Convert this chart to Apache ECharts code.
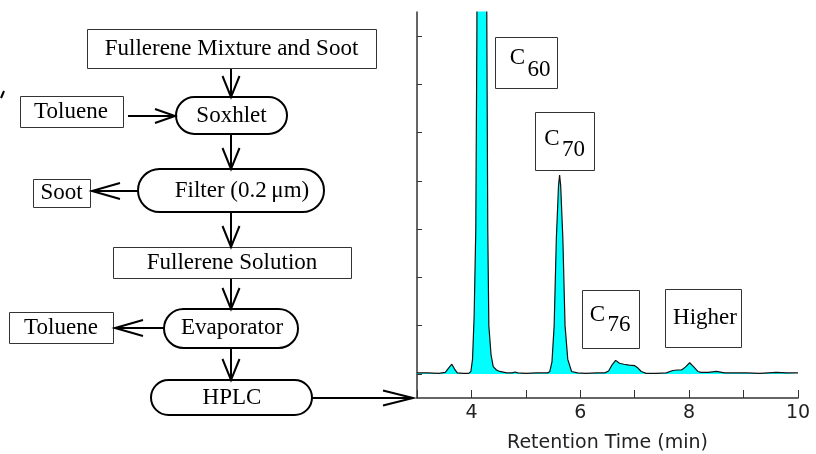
<!DOCTYPE html>
<html>
<head>
<meta charset="utf-8">
<script src="https://cdn.jsdelivr.net/npm/echarts@6/dist/echarts.min.js"></script>
<style>html,body{margin:0;padding:0;background:#fff}#c{width:816px;height:454px}</style>
</head>
<body>
<div id="c"></div>
<script>
// Retention time (min)
var times = [3.0, 3.2, 3.4, 3.52, 3.58, 3.64, 3.69, 3.74, 3.85, 3.95, 3.99, 4.02, 4.05, 4.08, 4.10, 4.13, 4.19, 4.25, 4.28, 4.30, 4.32, 4.36, 4.40, 4.46, 4.52, 4.65, 4.75, 4.8, 4.85, 5.0, 5.2, 5.4, 5.44, 5.48, 5.52, 5.56, 5.60, 5.62, 5.64, 5.68, 5.72, 5.77, 5.84, 5.95, 6.1, 6.3, 6.45, 6.52, 6.58, 6.65, 6.72, 6.8, 6.9, 7.0, 7.06, 7.12, 7.21, 7.4, 7.58, 7.70, 7.78, 7.86, 7.93, 8.01, 8.08, 8.16, 8.22, 8.35, 8.5, 8.65, 8.8, 9.05, 9.3, 9.6, 9.8, 10.0];
// Detector signal (relative units)
var signal = [0.02, 0.02, 0.01, 0.03, 0.12, 0.20, 0.10, 0.02, 0.01, 0.01, 0.05, 0.3, 1.2, 3.0, 7.0, 20, 40, 20, 8.0, 3.0, 1.0, 0.4, 0.15, 0.08, 0.05, 0.02, 0.02, 0.04, 0.02, 0.01, 0.02, 0.02, 0.05, 0.25, 1.0, 2.8, 3.9, 4.12, 3.9, 2.8, 1.0, 0.3, 0.05, 0.02, 0.01, 0.02, 0.02, 0.06, 0.18, 0.28, 0.22, 0.20, 0.18, 0.17, 0.12, 0.05, 0.01, 0.01, 0.02, 0.07, 0.08, 0.08, 0.14, 0.23, 0.15, 0.05, 0.03, 0.03, 0.05, 0.02, 0.02, 0.02, 0.01, 0.03, 0.02, 0.02];
var xTicks = [3, 4, 5, 6, 7, 8, 9, 10];
var xLabels = [4, 6, 8, 10];
var yTicks = [0, 1, 2, 3, 4, 5, 6, 7];
var peakNames = ['C60', 'C70', 'C76', 'Higher'];

var seriesData = times.map(function (t, i) { return [t, signal[i]]; });

var serif = '"Liberation Serif", "Times New Roman", serif';
var sans = '"DejaVu Sans", "Liberation Sans", Arial, sans-serif';
var els = [];
function rect(x, y, w, h) {
  els.push({type: 'rect', shape: {x: x + 0.5, y: y + 0.5, width: w, height: h}, style: {fill: '#fff', stroke: '#333', lineWidth: 1}, z: 10});
}
function pill(x, y, w, h) {
  els.push({type: 'rect', shape: {x: x, y: y, width: w, height: h, r: h / 2}, style: {fill: '#fff', stroke: '#000', lineWidth: 2}, z: 10});
}
function txt(s, x, y, size, align, fam) {
  els.push({type: 'text', x: x, y: y, style: {text: s, font: size + 'px ' + (fam || serif), fill: '#000', textAlign: align || 'center', textVerticalAlign: 'middle', align: align || 'center', verticalAlign: 'middle'}, z: 11});
}
function arrow(x1, y1, x2, y2, len, spread) {
  els.push({type: 'line', shape: {x1: x1, y1: y1, x2: x2, y2: y2}, style: {stroke: '#000', lineWidth: 2}, z: 9});
  var dx = x2 - x1, dy = y2 - y1, L = Math.sqrt(dx * dx + dy * dy);
  var ux = dx / L, uy = dy / L, px = -uy, py = ux;
  var bx = x2 - ux * len, by = y2 - uy * len;
  els.push({type: 'polyline', shape: {points: [[bx + px * spread, by + py * spread], [x2, y2], [bx - px * spread, by - py * spread]]}, style: {stroke: '#000', lineWidth: 2, fill: null}, z: 12});
}

// Flowchart
var fs = 23;
rect(87, 29, 289, 39); txt('Fullerene Mixture and Soot', 231.5, 49, fs);
arrow(231, 68, 231, 97, 21, 8.5);
pill(176, 97, 111, 37); txt('Soxhlet', 231.5, 116, fs);
rect(20, 96, 103, 31); txt('Toluene', 71, 112, fs);
arrow(128, 116, 175, 116, 20, 7);
arrow(231, 134, 231, 169, 21, 8.5);
pill(138, 169, 186, 43); txt('Filter (0.2\u2009\u03bcm)', 242, 191, fs);
rect(33, 179, 57, 28); txt('Soot', 61.5, 193, fs);
arrow(138, 191, 92, 191, 28, 8);
arrow(231, 212, 231, 247, 21, 8.5);
rect(113, 247, 238, 31); txt('Fullerene Solution', 232, 263, fs);
arrow(231, 278, 231, 309, 21, 8.5);
pill(164, 309, 134, 39); txt('Evaporator', 232, 328, fs);
rect(9, 312, 104, 31); txt('Toluene', 61, 328, fs);
arrow(164, 328, 115, 328, 28, 8);
arrow(231, 348, 231, 380, 21, 8.5);
pill(151, 380, 161, 35); txt('HPLC', 232, 398, fs);
arrow(312, 398, 413, 398, 30, 7.5);
// stray fragment at left edge
els.push({type: 'line', shape: {x1: 1, y1: 98, x2: 4, y2: 91}, style: {stroke: '#000', lineWidth: 2}, z: 9});

// Peak label boxes
rect(495, 37, 62, 51); txt('C', 517.5, 57.5, 23); txt('60', 539, 70, 23);
rect(535, 112, 59, 58); txt('C', 552, 138.5, 23); txt('70', 573.5, 150, 23);
rect(582, 290, 57, 58); txt('C', 597.5, 314.5, 23); txt('76', 619, 325, 23);
rect(665, 289, 76, 58); txt(peakNames[3], 705, 318, 23);

var chart = echarts.init(document.getElementById('c'), null, {renderer: 'canvas'});
chart.setOption({
  animation: false,
  backgroundColor: '#fff',
  grid: {left: 417, right: 18, top: 12, bottom: 56, containLabel: false, outerBoundsMode: 'none'},
  xAxis: {
    type: 'value', min: 3, max: 10, interval: 1,
    name: 'Retention Time (min)', nameLocation: 'middle', nameGap: 36,
    nameTextStyle: {fontSize: 19, color: '#222', fontFamily: sans},
    axisLine: {onZero: false, lineStyle: {color: '#333', width: 1.5}},
    axisTick: {inside: true, length: 8, lineStyle: {color: '#333', width: 1}},
    axisLabel: {fontSize: 19, color: '#222', margin: 6, fontFamily: sans,
      formatter: function (v) { return xLabels.indexOf(v) >= 0 ? String(v) : ''; }},
    splitLine: {show: false}
  },
  yAxis: {
    type: 'value', min: -0.5, max: 7.5,
    axisLine: {show: true, onZero: false, lineStyle: {color: '#333', width: 1.5}},
    axisTick: {show: true, inside: true, length: 5, customValues: yTicks, lineStyle: {color: '#333', width: 1}},
    axisLabel: {show: false},
    splitLine: {show: false}
  },
  series: [{
    type: 'line', data: seriesData, showSymbol: false, smooth: false, clip: true,
    lineStyle: {color: '#111', width: 1.2},
    areaStyle: {color: '#00FFFF', opacity: 1, origin: 0}
  }],
  graphic: {elements: els}
});
</script>
</body>
</html>
